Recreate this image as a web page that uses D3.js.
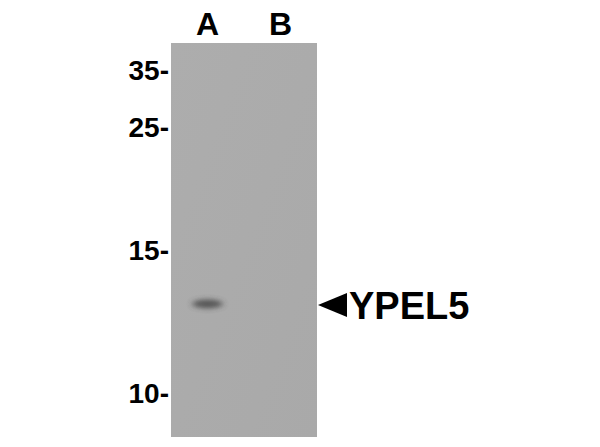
<!DOCTYPE html>
<html>
<head>
<meta charset="utf-8">
<script src="https://cdn.jsdelivr.net/npm/d3@7"></script>
<style>
  body { margin: 0; background: #fff; }
  svg { display: block; }
</style>
</head>
<body>
<div id="chart-area"></div>
<script>
// blot data
var lanes = ["A", "B"];
var markers = [35, 25, 15, 10];
var markerLabels = ["35-", "25-", "15-", "10-"];
var bandLane = ["A"];
var bandMW = [13.15];
var bandIntensity = [0.75];
var targetName = "YPEL5";

var width = 600, height = 447;
var gel = {left: 171, right: 317, top: 43, bottom: 437};

var svg = d3.select("#chart-area").append("svg")
	.attr("width", width).attr("height", height);

// lanes across, marker weights down (piecewise, gels aren't log-linear)
var x = d3.scalePoint().domain(lanes).range([gel.left, gel.right]).padding(0.5);
var y = d3.scaleLinear().domain(markers).range([71, 128, 251, 394]);

var defs = svg.append("defs");
defs.append("filter").attr("id", "blur")
	.attr("x", "-50%").attr("y", "-150%").attr("width", "200%").attr("height", "400%")
	.append("feGaussianBlur").attr("stdDeviation", "3 2.5");

var grad = defs.append("linearGradient").attr("id", "gelgrad")
	.attr("x1", 0).attr("y1", 0).attr("x2", 1).attr("y2", 1);
grad.append("stop").attr("offset", "0%").attr("stop-color", "#adadad");
grad.append("stop").attr("offset", "100%").attr("stop-color", "#a9a9a9");

svg.append("rect")
	.attr("x", gel.left).attr("y", gel.top)
	.attr("width", gel.right - gel.left).attr("height", gel.bottom - gel.top)
	.attr("fill", "url(#gelgrad)");

// bands
var bands = bandLane.map((l, i) => ({lane: l, mw: bandMW[i], v: bandIntensity[i]}));
svg.selectAll(".band").data(bands).enter().append("ellipse")
	.attr("class", "band")
	.attr("cx", d => x(d.lane))
	.attr("cy", d => y(d.mw))
	.attr("rx", 15)
	.attr("ry", 4.5)
	.attr("fill", "#3a3a3a")
	.attr("opacity", d => d.v)
	.attr("filter", "url(#blur)");

// lane labels
svg.selectAll(".lane").data(lanes).enter().append("text")
	.attr("class", "lane")
	.attr("x", d => x(d))
	.attr("y", 35)
	.attr("text-anchor", "middle")
	.attr("font-family", "Liberation Sans, Arial, sans-serif")
	.attr("font-weight", "bold")
	.attr("font-size", "32px")
	.text(d => d);

// marker labels
svg.selectAll(".marker").data(markers).enter().append("text")
	.attr("class", "marker")
	.attr("x", gel.left - 2)
	.attr("y", d => y(d) + 9)
	.attr("text-anchor", "end")
	.attr("font-family", "Liberation Sans, Arial, sans-serif")
	.attr("font-weight", "bold")
	.attr("font-size", "28px")
	.text((d, i) => markerLabels[i]);

// target arrow + name
var ty = y(bandMW[0]) + 1;
svg.append("path")
	.attr("d", "M" + (gel.right + 1) + "," + ty + "L" + (gel.right + 30) + "," + (ty - 12) + "L" + (gel.right + 30) + "," + (ty + 12) + "Z")
	.attr("fill", "#000");

svg.append("text")
	.attr("x", gel.right + 32)
	.attr("y", ty + 14)
	.attr("font-family", "Liberation Sans, Arial, sans-serif")
	.attr("font-weight", "bold")
	.attr("font-size", "38px")
	.text(targetName);
</script>
</body>
</html>
